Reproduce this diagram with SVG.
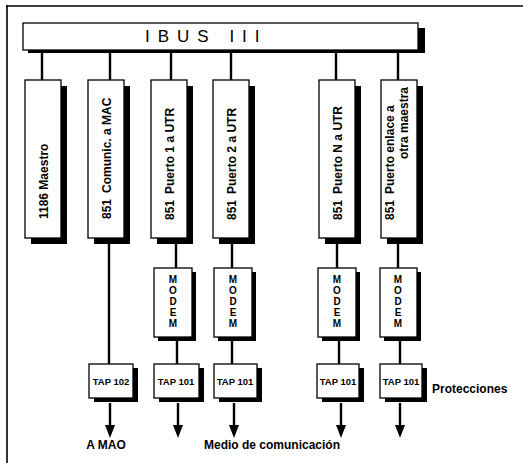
<svg xmlns="http://www.w3.org/2000/svg" width="523" height="463" viewBox="0 0 523 463">
<style>
.box{fill:#fff;stroke:#000;stroke-width:1.3}
.sh{fill:#000}
.ln{stroke:#000;stroke-width:2.4;fill:none}
.ah{fill:#000}
.t{font-family:"Liberation Sans",Arial,sans-serif;font-weight:bold;fill:#000}
.bus{font-family:"Liberation Sans",Arial,sans-serif;font-weight:normal;font-size:17px;letter-spacing:8px;fill:#000}
.mt{font-size:12px}
.md{font-size:10px;text-anchor:middle}
.tap{font-size:9.5px;text-anchor:middle}
.lb{font-size:12px}
</style>
<rect width="523" height="463" fill="#fff"/>
<g id="frame">
<line x1="6" y1="6" x2="523" y2="6" stroke="#000" stroke-width="1.6"/>
<line x1="7" y1="5" x2="7" y2="463" stroke="#000" stroke-width="1.6"/>
</g>
<g id="connectors">
<line class="ln" x1="42" y1="53" x2="42" y2="80"/>
<line class="ln" x1="110" y1="53" x2="110" y2="80"/>
<line class="ln" x1="171" y1="53" x2="171" y2="80"/>
<line class="ln" x1="231" y1="53" x2="231" y2="80"/>
<line class="ln" x1="336" y1="53" x2="336" y2="80"/>
<line class="ln" x1="398" y1="53" x2="398" y2="80"/>
<line class="ln" x1="109" y1="244" x2="109" y2="364" stroke-width="1.8"/>
<line class="ln" x1="176" y1="244" x2="176" y2="268"/>
<line class="ln" x1="232" y1="244" x2="232" y2="268"/>
<line class="ln" x1="337" y1="244" x2="337" y2="268"/>
<line class="ln" x1="398" y1="244" x2="398" y2="268"/>
<line class="ln" x1="177" y1="341" x2="177" y2="364"/>
<line class="ln" x1="232" y1="341" x2="232" y2="364"/>
<line class="ln" x1="339" y1="341" x2="339" y2="364"/>
<line class="ln" x1="400" y1="341" x2="400" y2="364"/>
<line class="ln" x1="110" y1="403" x2="110" y2="428"/>
<polygon class="ah" points="105,425 115,425 110,438"/>
<line class="ln" x1="178" y1="403" x2="178" y2="428"/>
<polygon class="ah" points="173,425 183,425 178,438"/>
<line class="ln" x1="234" y1="403" x2="234" y2="428"/>
<polygon class="ah" points="229,425 239,425 234,438"/>
<line class="ln" x1="341" y1="403" x2="341" y2="428"/>
<polygon class="ah" points="336,425 346,425 341,438"/>
<line class="ln" x1="400" y1="403" x2="400" y2="428"/>
<polygon class="ah" points="395,425 405,425 400,438"/>
</g>
<g id="bus">
<rect class="sh" x="28" y="28" width="397" height="25"/>
<rect class="box" x="23" y="23" width="395" height="27"/>
<text class="bus" x="145" y="42">IBUS III</text>
</g>
<g id="m1">
<rect class="sh" x="31" y="86" width="36" height="158"/>
<rect class="box" x="25" y="80" width="36" height="158"/>
<text class="t mt" transform="translate(48,219) rotate(-90)">1186 Maestro</text>
</g>
<g id="m2">
<rect class="sh" x="94" y="86" width="36" height="158"/>
<rect class="box" x="88" y="80" width="36" height="158"/>
<text class="t mt" transform="translate(111,219) rotate(-90)">851<tspan dx="6">Comunic. a MAC</tspan></text>
</g>
<g id="m3">
<rect class="sh" x="157" y="86" width="36" height="158"/>
<rect class="box" x="151" y="80" width="36" height="158"/>
<text class="t mt" transform="translate(174,220) rotate(-90)">851<tspan dx="6">Puerto 1 a UTR</tspan></text>
</g>
<g id="m4">
<rect class="sh" x="219" y="86" width="36" height="158"/>
<rect class="box" x="213" y="80" width="36" height="158"/>
<text class="t mt" transform="translate(236,220) rotate(-90)">851<tspan dx="6">Puerto 2 a UTR</tspan></text>
</g>
<g id="m5">
<rect class="sh" x="325" y="86" width="36" height="158"/>
<rect class="box" x="319" y="80" width="36" height="158"/>
<text class="t mt" transform="translate(342,220) rotate(-90)">851<tspan dx="6">Puerto N a UTR</tspan></text>
</g>
<g id="m6">
<rect class="sh" x="387" y="86" width="36" height="158"/>
<rect class="box" x="381" y="80" width="36" height="158"/>
<text class="t mt" transform="translate(394,220) rotate(-90)">851<tspan dx="6">Puerto enlace a</tspan></text>
<text class="t mt" transform="translate(408,159) rotate(-90)">otra maestra</text>
</g>
<g id="modem1">
<rect class="sh" x="158" y="272" width="38" height="69"/>
<rect class="box" x="154" y="268" width="38" height="69"/>
<text class="t md" x="173" y="283">M</text><text class="t md" x="173" y="294">O</text><text class="t md" x="173" y="305">D</text><text class="t md" x="173" y="316">E</text><text class="t md" x="173" y="327">M</text>
</g>
<g id="modem2">
<rect class="sh" x="218" y="272" width="38" height="69"/>
<rect class="box" x="214" y="268" width="38" height="69"/>
<text class="t md" x="233" y="283">M</text><text class="t md" x="233" y="294">O</text><text class="t md" x="233" y="305">D</text><text class="t md" x="233" y="316">E</text><text class="t md" x="233" y="327">M</text>
</g>
<g id="modem3">
<rect class="sh" x="322" y="272" width="38" height="69"/>
<rect class="box" x="318" y="268" width="38" height="69"/>
<text class="t md" x="337" y="283">M</text><text class="t md" x="337" y="294">O</text><text class="t md" x="337" y="305">D</text><text class="t md" x="337" y="316">E</text><text class="t md" x="337" y="327">M</text>
</g>
<g id="modem4">
<rect class="sh" x="384" y="272" width="37" height="69"/>
<rect class="box" x="380" y="268" width="37" height="69"/>
<text class="t md" x="398" y="283">M</text><text class="t md" x="398" y="294">O</text><text class="t md" x="398" y="305">D</text><text class="t md" x="398" y="316">E</text><text class="t md" x="398" y="327">M</text>
</g>
<g id="tap102">
<rect class="sh" x="94" y="368" width="44" height="34"/>
<rect class="box" x="89" y="364" width="44" height="34"/>
<text class="t tap" x="111" y="385">TAP 102</text>
</g>
<g id="tap101a">
<rect class="sh" x="159" y="368" width="45" height="34"/>
<rect class="box" x="154" y="364" width="45" height="34"/>
<text class="t tap" x="176" y="385">TAP 101</text>
</g>
<g id="tap101b">
<rect class="sh" x="219" y="368" width="43" height="34"/>
<rect class="box" x="214" y="364" width="43" height="34"/>
<text class="t tap" x="235" y="385">TAP 101</text>
</g>
<g id="tap101c">
<rect class="sh" x="322" y="368" width="42" height="34"/>
<rect class="box" x="317" y="364" width="42" height="34"/>
<text class="t tap" x="338" y="385">TAP 101</text>
</g>
<g id="tap101d">
<rect class="sh" x="385" y="368" width="42" height="34"/>
<rect class="box" x="380" y="364" width="42" height="34"/>
<text class="t tap" x="401" y="385">TAP 101</text>
</g>
<g id="labels">
<text class="t lb" x="106" y="449" text-anchor="middle">A MAO</text>
<text class="t lb" x="204" y="449">Medio de comunicación</text>
<text class="t lb" x="432" y="393">Protecciones</text>
</g>
</svg>
